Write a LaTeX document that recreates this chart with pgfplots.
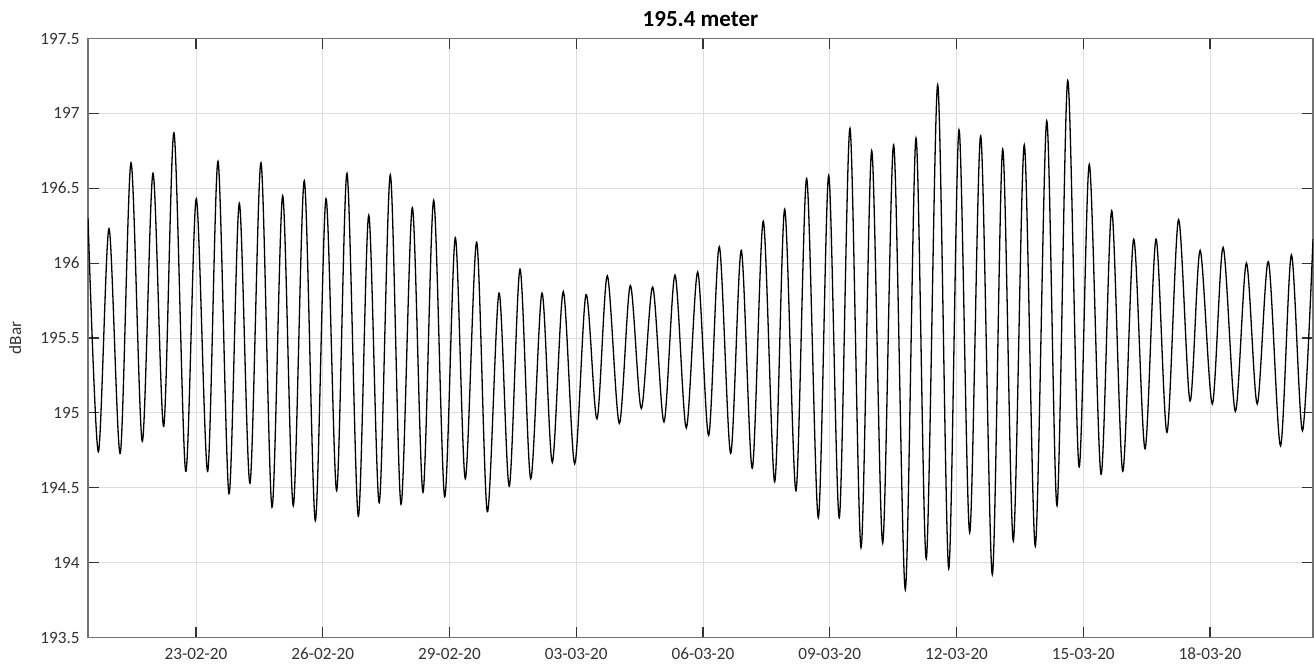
\documentclass[border=0pt]{standalone}
\usepackage{fontspec}
\setmainfont{Carlito}
\usepackage{pgfplots}
\pgfplotsset{compat=1.18}
\usepackage{pgfplotstable}

\pgfplotstableread{
d v
-2.556 196.30
-2.312 194.74
-2.059 196.23
-1.792 194.73
-1.538 196.67
-1.271 194.81
-1.018 196.60
-0.764 194.91
-0.521 196.87
-0.244 194.61
0.007 196.43
0.277 194.61
0.521 196.68
0.781 194.46
1.025 196.40
1.278 194.53
1.538 196.67
1.799 194.37
2.052 196.45
2.303 194.38
2.563 196.55
2.824 194.28
3.077 196.43
3.330 194.48
3.574 196.60
3.841 194.31
4.088 196.32
4.338 194.40
4.599 196.59
4.852 194.39
5.120 196.37
5.373 194.47
5.626 196.42
5.886 194.44
6.137 196.17
6.374 194.56
6.644 196.14
6.895 194.34
7.172 195.80
7.415 194.51
7.669 195.96
7.922 194.56
8.189 195.80
8.433 194.67
8.693 195.81
8.963 194.66
9.231 195.79
9.491 194.96
9.735 195.915
10.019 194.93
10.279 195.85
10.540 195.03
10.809 195.84
11.077 194.94
11.337 195.92
11.605 194.90
11.874 195.94
12.135 194.85
12.386 196.11
12.655 194.73
12.906 196.085
13.167 194.63
13.427 196.28
13.697 194.54
13.934 196.36
14.201 194.48
14.454 196.565
14.729 194.30
14.975 196.585
15.226 194.30
15.479 196.90
15.740 194.10
15.993 196.75
16.253 194.13
16.513 196.79
16.788 193.82
17.041 196.835
17.285 194.025
17.555 197.19
17.815 193.96
18.059 196.89
18.312 194.20
18.573 196.85
18.847 193.92
19.093 196.76
19.344 194.145
19.604 196.79
19.865 194.11
20.135 196.95
20.379 194.38
20.632 197.22
20.899 194.64
21.143 196.66
21.420 194.59
21.673 196.35
21.934 194.61
22.194 196.16
22.462 194.76
22.722 196.16
22.982 194.87
23.254 196.29
23.527 195.08
23.766 196.085
24.054 195.06
24.310 196.105
24.599 195.01
24.861 196.00
25.117 195.06
25.382 196.01
25.669 194.78
25.926 196.055
26.189 194.88
26.438 196.16
}\tide

\begin{document}
\begin{tikzpicture}
\begin{axis}[name=ax, scale only axis, width=612.5pt, height=299.5pt,
  xmin=-2.556, xmax=26.438, ymin=193.5, ymax=197.5,
  xtick={0,3,...,24},
  xticklabels={23-02-20,26-02-20,29-02-20,03-03-20,06-03-20,09-03-20,12-03-20,15-03-20,18-03-20},
  ytick={193.5,194,194.5,195,195.5,196,196.5,197,197.5},
  grid=major, major grid style={black!13, line width=0.45pt},
  axis line style={black!55, line width=0.55pt},
  tick style={black!80, line width=0.55pt}, tick align=inside, tick pos=both, major tick length=5.5pt,
  ticklabel style={font=\fontsize{8.6}{10}\selectfont, text=black!80},
  /pgf/number format/assume math mode=true,
  yticklabel style={/pgf/number format/fixed, /pgf/number format/precision=1, inner sep=0pt, xshift=-4pt},
  xticklabel style={inner sep=0pt, yshift=-5pt},
  title={\textbf{195.4 meter}},
  every axis title/.style={at={(axis description cs:0.5,1)}, anchor=south, inner sep=0pt, yshift=5.75pt, font=\fontsize{11.5}{13}\selectfont},
  ylabel={dBar},
  every axis y label/.style={at={(axis description cs:-0.0595,0.5)}, rotate=90, anchor=center, font=\fontsize{8.6}{10}\selectfont, text=black!80},
]
\addplot[black, line width=0.65pt, smooth, tension=0.5] table[x=d, y=v] {\tide};
\end{axis}
\pgfresetboundingbox
\path ([xshift=-44pt,yshift=-14pt]ax.south west) rectangle ([xshift=0.5pt,yshift=19.25pt]ax.north east);
\end{tikzpicture}
\end{document}
